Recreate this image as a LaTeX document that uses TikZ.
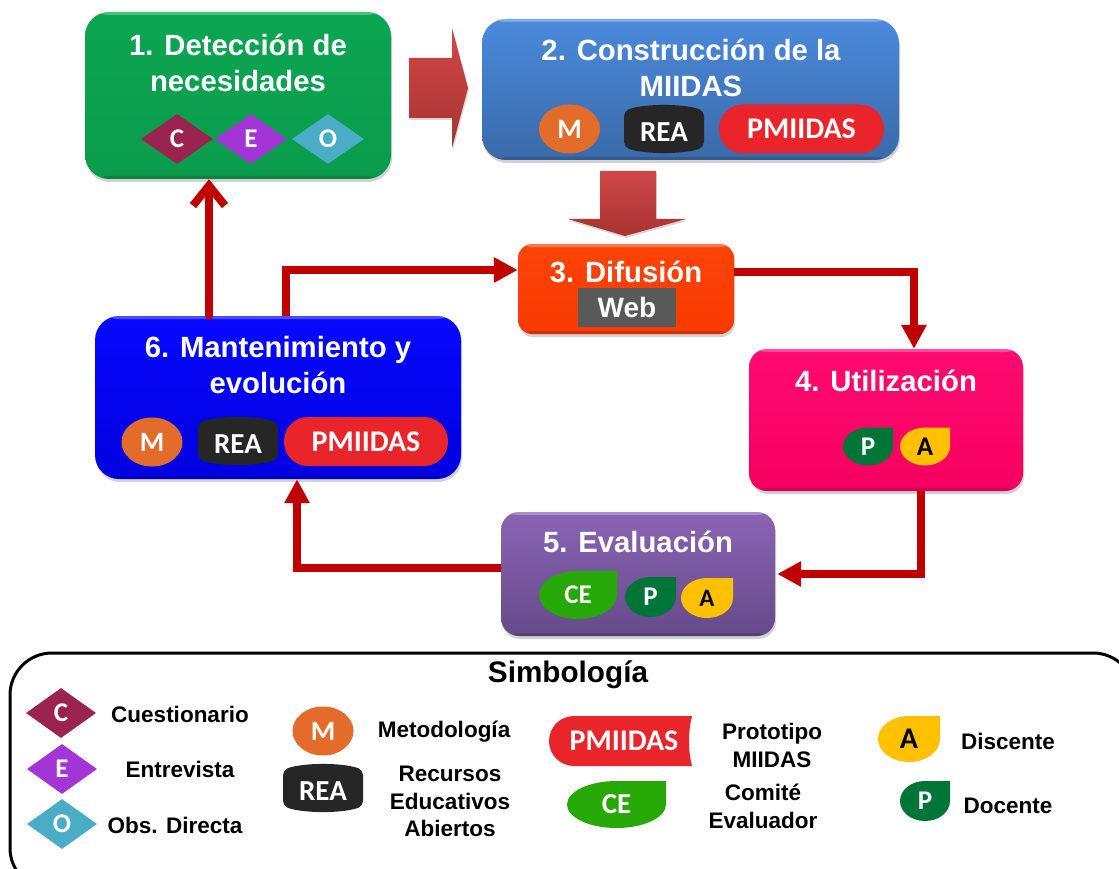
\documentclass[tikz,border=0pt]{standalone}
\usepackage{fontspec}
\setmainfont{Liberation Sans}
\newfontfamily\symfont{Carlito}
\usetikzlibrary{arrows.meta,shadows,shapes.geometric,calc}
\definecolor{arrowred}{HTML}{C00000}
\definecolor{blockA}{HTML}{D04848}
\definecolor{blockB}{HTML}{A83232}
\tikzset{
  x=1pt,y=-1pt,
  stagebox/.style={rectangle,rounded corners=24pt,inner sep=0pt,
    drop shadow={shadow xshift=1pt,shadow yshift=-3pt,opacity=.35},
    path picture={
      \fill[white,opacity=.28] (path picture bounding box.north west) rectangle ([yshift=-3pt]path picture bounding box.north east);
      \fill[black,opacity=.14] (path picture bounding box.south west) rectangle ([yshift=3pt]path picture bounding box.south east);}},
  stagetitle/.style={text=white,font=\fontsize{29.3}{35.5}\selectfont\bfseries,align=center,inner sep=0pt},
  symtext/.style={font=\symfont\fontsize{29}{30}\selectfont\bfseries,text=white,inner sep=0pt},
  legendtext/.style={font=\fontsize{22.5}{27.5}\selectfont\bfseries,align=center,inner sep=0pt,text=black},
  flow/.style={draw=arrowred,line width=8pt,-{Triangle[length=24pt,width=24pt]}},
  flowbarb/.style={draw=arrowred,line width=8pt,line cap=round,-{Straight Barb[length=20pt,width=32pt,line width=8pt]}},
  blockarrow/.style={draw=none,top color=blockA,bottom color=blockB,
    drop shadow={shadow xshift=1pt,shadow yshift=-2pt,opacity=.3}},
  diasym/.style={diamond,shape aspect=1.4,inner sep=0pt,minimum width=72pt,minimum height=50pt,
    font=\symfont\fontsize{27}{30}\selectfont\bfseries,text=white},
  ellsym/.style={ellipse,inner sep=0pt,minimum width=61pt,minimum height=49pt,fill=msym,
    font=\symfont\fontsize{28}{30}\selectfont\bfseries,text=white},
  pillsym/.style={rectangle,rounded corners=24pt,inner sep=0pt,minimum height=49pt,fill=pillred,
    font=\symfont\fontsize{30}{30}\selectfont\bfseries,text=white},
}
\definecolor{msym}{HTML}{E46C2A}
\definecolor{pillred}{HTML}{EA242B}
\definecolor{dc}{HTML}{9B2350}
\definecolor{de}{HTML}{A335D6}
\definecolor{do}{HTML}{4BACC6}
\definecolor{greenA}{HTML}{0BA552}
\definecolor{greenB}{HTML}{0A9C4C}
\definecolor{blueA}{HTML}{4A8ADC}
\definecolor{blueB}{HTML}{3A6AA8}
\definecolor{orgA}{HTML}{FF4408}
\definecolor{orgB}{HTML}{F83A00}
\definecolor{pinkA}{HTML}{FF0A70}
\definecolor{pinkB}{HTML}{F50060}
\definecolor{purA}{HTML}{8A64B4}
\definecolor{purB}{HTML}{664A8A}
\definecolor{royA}{HTML}{0808FF}
\definecolor{royB}{HTML}{0000E0}
\definecolor{ceg}{HTML}{26A806}
\definecolor{pg}{HTML}{007538}
\definecolor{ag}{HTML}{FFC000}
\definecolor{reab}{HTML}{262626}
% leaf: name, cx, cy, rx, ry, colour, text colour, font size, text
\newcommand{\leafsym}[9]{%
  \fill[#6] ({#2+#4},{#3-#5}) -- ({#2+#4},#3)
     arc[start angle=0,end angle=270,x radius=#4,y radius=#5] -- cycle;
  \node[inner sep=0pt,text=#7,font=\symfont\fontsize{#8}{#8}\selectfont\bfseries] (#1) at (#2,#3) {#9};}
% REA barrel: name, cx, cy
\newcommand{\reasym}[3]{%
  \fill[reab,rounded corners=5pt] ({#2-40},{#3-18}) .. controls ({#2-20},{#3-25.5}) and ({#2+20},{#3-25.5}) .. ({#2+40},{#3-18})
    -- ({#2+40},{#3+18}) .. controls ({#2+20},{#3+25.5}) and ({#2-20},{#3+25.5}) .. ({#2-40},{#3+18}) -- cycle;
  \node[symtext] (#1) at (#2,{#3+3}) {REA};}
\begin{document}
\begin{tikzpicture}
\useasboundingbox (0,0) rectangle (1119,869);
\clip (0,0) rectangle (1119,869);
\fill[white] (0,0) rectangle (1119,869);

% block arrows
\path[blockarrow] (409,58) -- (452,58) -- (452,28) -- (468,88) -- (452,148) -- (452,118) -- (409,118) -- cycle;
\path[blockarrow] (600,171) -- (656,171) -- (656,219) -- (686,219) -- (625,236) -- (568,219) -- (600,219) -- cycle;

% stages
\node[stagebox,top color=greenA,bottom color=greenB,minimum width=306pt,minimum height=167pt] (b1) at (238,95.5) {};
\node[stagebox,top color=blueA,bottom color=blueB,minimum width=417pt,minimum height=141pt] (b2) at (690.5,89.5) {};
\node[stagebox,rounded corners=14pt,top color=orgA,bottom color=orgB,minimum width=216pt,minimum height=90pt] (b3) at (626,289) {};
\node[stagebox,rounded corners=18pt,top color=pinkA,bottom color=pinkB,minimum width=274pt,minimum height=142pt] (b4) at (886,420) {};
\node[stagebox,rounded corners=18pt,top color=purA,bottom color=purB,minimum width=274pt,minimum height=124pt] (b5) at (638,574) {};
\node[stagebox,top color=royA,bottom color=royB,minimum width=366pt,minimum height=163pt] (b6) at (278,397.5) {};

% titles
\node[stagetitle] (t1) at (238,63) {1. Detección de\\necesidades};
\node[stagetitle] (t2) at (691,68) {2. Construcción de la\\MIIDAS};
\node[stagetitle] (t3) at (626,272) {3. Difusión};
\node[stagetitle] (t4) at (886,381) {4. Utilización};
\node[stagetitle] (t5) at (638,542) {5. Evaluación};
\node[stagetitle] (t6) at (278,365) {6. Mantenimiento y\\evolución};

% stage 1 symbols
\node[diasym,fill=dc] (c1) at (177,139) {C};
\node[diasym,fill=de] (e1) at (251,139) {E};
\node[diasym,fill=do] (o1) at (328,139) {O};
% stage 2 symbols
\node[ellsym] (m2) at (569.5,129) {M};
\reasym{rea2}{664}{129}
\node[pillsym,minimum width=165pt] (pm2) at (801.5,129) {PMIIDAS};
% stage 3
\node[rectangle,fill=black!65,minimum width=98pt,minimum height=39pt,inner sep=0pt,text=white,
  font=\fontsize{28}{30}\selectfont\bfseries] (web) at (627,307.5) {Web};
% stage 4
\leafsym{p4}{868}{446.5}{25}{19}{pg}{white}{27}{P}
\leafsym{a4}{925}{446.5}{25}{19}{ag}{black}{27}{A}
% stage 5
\leafsym{ce5}{578}{595}{39}{24}{ceg}{white}{27}{CE}
\leafsym{p5}{650.5}{597}{25.5}{20}{pg}{white}{27}{P}
\leafsym{a5}{707}{598}{26}{20}{ag}{black}{25}{A}
% stage 6
\node[ellsym] (m6) at (152,442) {M};
\reasym{rea6}{238}{441}
\node[pillsym,minimum width=164pt] (pm6) at (366,441.5) {PMIIDAS};

% connectors
\draw[flowbarb] ([xshift=-69pt]b6.north) -- ([xshift=-29pt]b1.south);
\draw[flow] ([xshift=8pt]b6.north) |- ([yshift=19pt]b3.west);
\draw[flow] ([yshift=17pt]b3.east) -| ([xshift=28pt]b4.north);
\draw[flow] ([xshift=35pt]b4.south) |- ([xshift=2pt]b5.east);
\draw[flow] ([yshift=6pt]b5.west) -| ([xshift=19pt]b6.south);

% legend
\draw[black,line width=3pt,rounded corners=42pt] (10,653) rectangle (1135,890);
\node[font=\fontsize{29.7}{30}\selectfont\bfseries,inner sep=0pt] (ltitle) at (568,675) {Simbología};
\node[diasym,fill=dc,minimum width=70pt] (lc) at (61,713) {C};
\node[diasym,fill=de,minimum width=70pt] (le) at (62,769) {E};
\node[diasym,fill=do,minimum width=70pt] (lo) at (62,824) {O};
\node[legendtext] (lct) at (180,714) {Cuestionario};
\node[legendtext] (let) at (180,769) {Entrevista};
\node[legendtext] (lot) at (175,825) {Obs. Directa};
\node[ellsym] (lm) at (323,731) {M};
\reasym{lrea}{323}{788}
\node[legendtext] (lmt) at (444,732) {Metodología};
\node[legendtext] (lreat) at (450,801.5) {Recursos\\Educativos\\Abiertos};
\fill[pillred] (692,716) -- (574,716) arc[start angle=270,end angle=90,radius=25] -- (692,766)
   .. controls (688,750) and (688,732) .. (692,716) -- cycle;
\node[symtext,font=\symfont\fontsize{30}{30}\selectfont\bfseries] (lpm) at (624,741) {PMIIDAS};
\node[legendtext] (lpmt) at (772,745.5) {Prototipo\\MIIDAS};
\leafsym{lce}{616.5}{804.5}{49.5}{23.5}{ceg}{white}{29}{CE}
\node[legendtext] (lcet) at (763,806.5) {Comité\\Evaluador};
\leafsym{la}{909}{739}{31}{23}{ag}{black}{30}{A}
\node[legendtext] (lat) at (1008,741) {Discente};
\leafsym{lp}{925}{801}{25}{20}{pg}{white}{27}{P}
\node[legendtext] (lpt) at (1008,806) {Docente};
\end{tikzpicture}
\end{document}
